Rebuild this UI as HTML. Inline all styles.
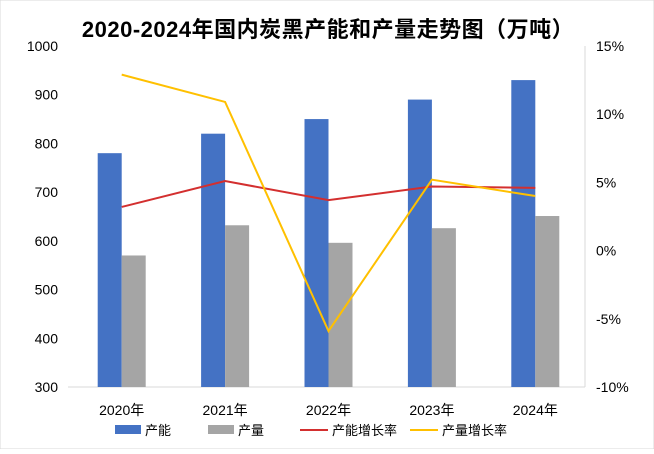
<!DOCTYPE html>
<html><head><meta charset="utf-8"><style>
body{margin:0;background:#fff;}
svg text{font-family:"Liberation Sans","Noto Sans CJK SC",sans-serif;}
</style></head><body>
<svg id="c" width="654" height="449">
<rect x="0" y="0" width="654" height="449" fill="#fff" stroke="#d9d9d9"/>
<text x="328" y="37" text-anchor="middle" font-size="22" font-weight="bold" letter-spacing="0.5" fill="#000">2020-2024年国内炭黑产能和产量走势图（万吨）</text>
</svg>
<script>
const categories=["2020年","2021年","2022年","2023年","2024年"];
const capacity=[780,820,850,890,930];
const production=[570,632,596,626,651];
const capGrowth=[3.2,5.1,3.7,4.7,4.6];
const prodGrowth=[12.9,10.9,-5.9,5.2,4.0];
const leftTicks=[300,400,500,600,700,800,900,1000];
const rightTicks=[-10,-5,0,5,10,15];
const svg=document.getElementById('c');
const NS='http://www.w3.org/2000/svg';
const L=70,R=587,T=46,B=387;
const yL=v=>B-(v-300)/700*(B-T);
const yR=v=>B-(v+10)/25*(B-T);
const bw=(R-L)/categories.length;
const xC=i=>L+bw*(i+0.5);
function mk(t,a){const e=document.createElementNS(NS,t);for(const k in a)e.setAttribute(k,a[k]);svg.appendChild(e);return e;}
let ax=mk('line',{x1:68,x2:585,y1:B,y2:B,stroke:'#d9d9d9'});


let rx=mk('line',{x1:585,x2:585,y1:T,y2:B,stroke:'#d9d9d9'});


leftTicks.forEach(v=>{const t=mk('text',{x:58,y:yL(v)+5,'text-anchor':'end','font-size':14,fill:'#000'});t.textContent=v;

});
rightTicks.forEach(v=>{const t=mk('text',{x:596,y:yR(v)+5,'font-size':14,fill:'#000'});t.textContent=v+'%';

});
categories.forEach((c,i)=>{
const t=mk('text',{x:xC(i),y:415,'text-anchor':'middle','font-size':14,fill:'#000'});t.textContent=c;


const b1=mk('rect',{x:xC(i)-24,y:yL(capacity[i]),width:24,height:B-yL(capacity[i]),fill:'#4472c4'});


const b2=mk('rect',{x:xC(i),y:yL(production[i]),width:24,height:B-yL(production[i]),fill:'#a5a5a5'});


});
const l1=mk('polyline',{points:capGrowth.map((v,i)=>xC(i)+','+yR(v)).join(' '),fill:'none',stroke:'#d32f2f','stroke-width':2});


const l2=mk('polyline',{points:prodGrowth.map((v,i)=>xC(i)+','+yR(v)).join(' '),fill:'none',stroke:'#ffc000','stroke-width':2});


const leg=[['rect','#4472c4','产能',115],['rect','#a5a5a5','产量',208],['line','#d32f2f','产能增长率',300],['line','#ffc000','产量增长率',410]];
leg.forEach(([k,c,n,x])=>{
let m;
if(k==='rect')m=mk('rect',{x:x,y:425,width:26,height:9,fill:c});
else m=mk('line',{x1:x,x2:x+28,y1:430,y2:430,stroke:c,'stroke-width':2});


const t=mk('text',{x:x+(k==='rect'?30:32),y:435,'font-size':13,fill:'#000'});t.textContent=n;


});
</script>
</body></html>
